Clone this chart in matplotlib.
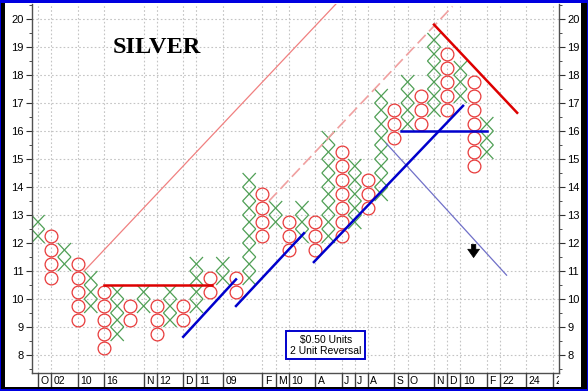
import numpy as np
import matplotlib
matplotlib.use("Agg")
import matplotlib.pyplot as plt
from matplotlib.patches import Rectangle
from matplotlib.collections import LineCollection

# ---------------- data ----------------
col_types = ['X', 'O'] * 17 + ['X']
col_bottom = [12.0, 10.5, 11.0, 9.0, 9.5, 8.0, 8.5, 9.0, 9.5, 8.5, 9.0, 9.0, 9.5, 10.0,
              10.5, 10.0, 10.5, 12.0, 12.5, 11.5, 12.0, 11.5, 12.0, 12.0, 12.5, 13.0,
              13.5, 15.5, 16.0, 16.0, 16.5, 16.5, 17.0, 14.5, 15.0]
col_top = [13.0, 12.5, 12.0, 11.5, 11.0, 10.5, 10.5, 10.0, 10.5, 10.0, 10.5, 10.0, 11.5, 11.0,
           11.5, 11.0, 14.5, 14.0, 13.5, 13.0, 13.5, 13.0, 16.0, 15.5, 15.0, 14.5,
           17.5, 17.0, 18.0, 17.5, 19.5, 19.0, 18.5, 18.0, 16.5]
box_size = 0.5

date_cols = [0, 1, 3, 5, 8, 9, 11, 12, 14, 17, 18, 19, 21, 23, 24, 25, 27, 28, 30, 31, 32, 34, 35, 37, 39]
date_labels = ['O', '02', '10', '16', 'N', '12', 'D', '11', '09', 'F', 'M', '10', 'A', 'J', 'J', 'A',
               'S', 'O', 'N', 'D', '10', 'F', '22', '24', '2']

yticks = list(range(8, 21))

# trend lines: (x0, y0, x1, y1)
thin_red = [(3.5, 11.0, 23.5, 21.0)]
dashed_red = [(17.5, 13.5, 31.4, 20.45)]
thick_red = [(5.0, 10.5, 13.2, 10.5), (30.0, 19.8, 36.3, 16.65)]
thick_blue = [(11.0, 8.65, 15.0, 10.7), (15.0, 9.75, 20.15, 12.35),
              (20.9, 11.32, 32.2, 16.9), (27.5, 16.0, 34.0, 16.0)]
thin_blue = [(26.4, 15.55, 35.5, 10.85)]
arrow_col, arrow_from, arrow_to = 33, 11.95, 11.48

W, H = 588, 391
fig = plt.figure(figsize=(W / 100, H / 100), dpi=100)
fig.patch.set_facecolor('#0000e0')


def frect(x0, ytop, x1, ybot, color):
    r = Rectangle((x0 / W, 1 - ybot / H), (x1 - x0) / W, (ybot - ytop) / H,
                  transform=fig.transFigure, facecolor=color, edgecolor='none', zorder=-10)
    fig.add_artist(r)


frect(1, 3, 587, 389, 'black')
frect(5, 3, 581, 387, 'white')

ax_l, ax_r, ax_t, ax_b = 32, 559, 4, 373
ax = fig.add_axes([ax_l / W, 1 - ax_b / H, (ax_r - ax_l) / W, (ax_b - ax_t) / H])
ax.set_facecolor('white')
ax.set_xlim(-0.4545, 39.47)
ax.set_ylim(7.357, 20.536)

# grid
for v in yticks:
    ax.axhline(v, color='#c4c4c4', lw=0.8, ls=(0, (1.5, 2)), zorder=0)
for c in date_cols:
    ax.axvline(c, color='#c4c4c4', lw=0.8, ls=(0, (1.5, 2)), zorder=0)

# X and O columns
xsegs = []
ox, oy = [], []
for c, (t, b, tp) in enumerate(zip(col_types, col_bottom, col_top)):
    for v in np.arange(b, tp - 1e-9, box_size):
        if t == 'X':
            xsegs.append([(c - 0.5, v), (c + 0.5, v + box_size)])
            xsegs.append([(c - 0.5, v + box_size), (c + 0.5, v)])
        else:
            ox.append(c)
            oy.append(v + box_size / 2)
ax.add_collection(LineCollection(xsegs, colors='#4f9f55', linewidths=0.9, zorder=2))
ax.plot(ox, oy, ls='none', marker='o', ms=9.2, mfc='none', mec='#e83a3a', mew=0.9, zorder=2)


def draw(lines, **kw):
    for x0, y0, x1, y1 in lines:
        ax.plot([x0, x1], [y0, y1], **kw)


draw(thin_red, color='#f08080', lw=0.9, zorder=3)
draw(dashed_red, color='#f0a0a0', lw=1.2, ls=(0, (7, 3)), zorder=3)
draw(thick_red, color='#dd0000', lw=1.8, zorder=4)
draw(thick_blue, color='#0000cc', lw=1.8, zorder=4)
draw(thin_blue, color='#7070c8', lw=0.9, zorder=3)

ax.annotate('', xy=(arrow_col, arrow_to), xytext=(arrow_col, arrow_from),
            arrowprops=dict(arrowstyle='simple,head_length=0.6,head_width=0.85,tail_width=0.32',
                            fc='black', ec='black', lw=0.5, mutation_scale=10,
                            shrinkA=0, shrinkB=0), zorder=5)

ax.text(9.0, 19.0, 'SILVER', family=['Liberation Serif', 'DejaVu Serif'], fontweight='bold',
        fontsize=17.5, ha='center', va='center', zorder=5)

ax.text(21.8, 8.35, '\\$0.50 Units\n2 Unit Reversal', family=['Liberation Sans', 'DejaVu Sans'],
        fontsize=7.5, ha='center', va='center', linespacing=1.15, zorder=6,
        bbox=dict(boxstyle='square,pad=0.35', fc='white', ec='#0000cc', lw=1.4))

# axes styling
ax.spines['top'].set_visible(False)
for s in ('left', 'right', 'bottom'):
    ax.spines[s].set_color('#505050')
    ax.spines[s].set_linewidth(1.0)
ax.set_xticks([])
ax.set_yticks(yticks)
ax.set_yticks(np.arange(7.5, 20.6, 0.5), minor=True)
ax.tick_params(axis='y', which='both', left=True, right=True, labelleft=True, labelright=True,
               direction='out', labelsize=8, colors='#303030', labelcolor='black')
ax.tick_params(axis='y', which='major', length=4, width=0.8, pad=2)
ax.tick_params(axis='y', which='minor', length=2, width=0.6)
for lab in ax.get_yticklabels():
    lab.set_family(['Liberation Sans', 'DejaVu Sans'])

# date strip
ax2 = fig.add_axes([ax_l / W, 1 - 387 / H, (ax_r - ax_l) / W, 14 / H])
ax2.set_xlim(ax.get_xlim())
ax2.set_ylim(0, 1)
ax2.axis('off')
ax2.patch.set_alpha(0)
for c, lab in zip(date_cols, date_labels):
    ax2.plot([c, c], [0, 1], color='#404040', lw=1.0, clip_on=True)
    ax2.text(c + 0.18, 0.45, lab, fontsize=7.5, family=['Liberation Sans', 'DejaVu Sans'],
             ha='left', va='center', clip_on=True)

fig.savefig('out.png', dpi=100, facecolor=fig.get_facecolor())
